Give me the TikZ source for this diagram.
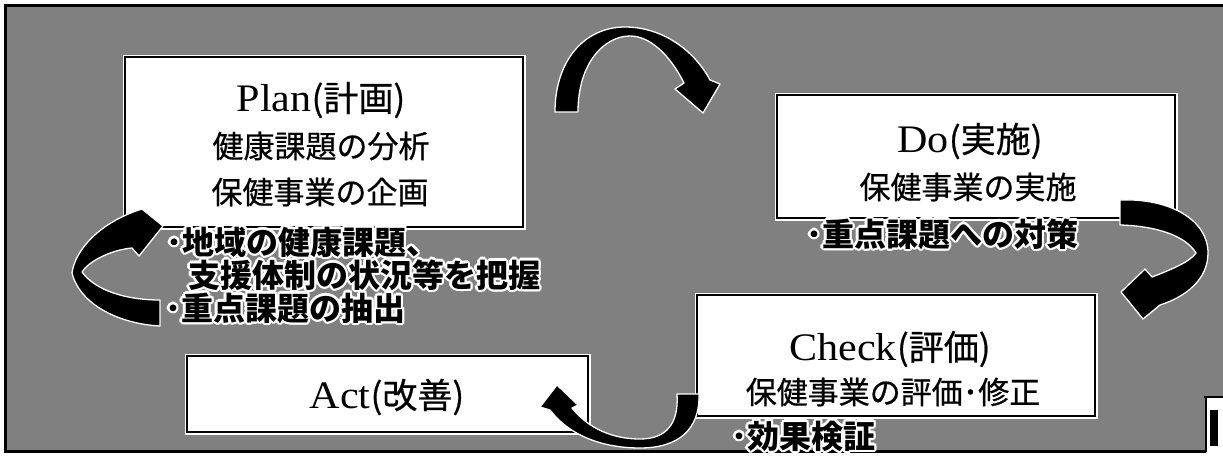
\documentclass[tikz,border=0pt]{standalone}
\usepackage{fontspec}
\setmainfont{Liberation Serif}[FakeStretch=1.08]
\newfontfamily\cjkfont{Noto Sans CJK JP}
\newfontfamily\cjkmed{Noto Sans CJK JP}[FakeBold=0.6]
\usetikzlibrary{calc}
\newcommand{\jtxt}[1]{{\cjkmed\fontsize{35}{40}\selectfont #1}}
\newcommand{\halotext}[3]{%
  \foreach \ang in {0,30,...,330}{%
    \node[bultxt,text=white] at ($(#2)+(\ang:2.3pt)$) {#3};}%
  \node[bultxt] (#1) at (#2) {#3};}
\begin{document}
\begin{tikzpicture}[x=1pt,y=-1pt,
  box/.style={draw=black,line width=2.6pt,fill=white,inner sep=0pt,
    preaction={draw=white,line width=5pt}},
  lattxt/.style={inner sep=0pt,font=\fontsize{39}{42}\selectfont},
  jline/.style={inner sep=0pt,font=\cjkmed\fontsize{31}{36}\selectfont},
  bultxt/.style={anchor=west,inner sep=0pt,text=black,
    font=\cjkfont\bfseries\fontsize{32}{36}\selectfont},
  blockarrow/.style={fill=black,draw=white,line width=1.3pt,line join=round},
  frame/.style={draw=black,line width=3pt}]
\useasboundingbox (0,0) rectangle (1223,458);
% background
\fill[black!50] (4,4) rectangle (1223,452);
\draw[frame] (1223,5) -- (5,5) -- (5,451) -- (1206,451);
% bottom-right scan artefact
\fill[white] (1207,398) rectangle (1223,458);
\draw[black,line width=2.5pt] (1204,397) -- (1223,397);
\draw[black,line width=2pt] (1206,397) -- (1206,452);
\fill[black] (1210,410) rectangle (1218,446);

% boxes
\node[box,minimum width=398pt,minimum height=170pt] (plan) at (324,142) {};
\node[box,minimum width=398pt,minimum height=123pt] (do) at (976,156.5) {};
\node[box,minimum width=398pt,minimum height=121pt] (check) at (896,355.5) {};
\node[box,minimum width=401pt,minimum height=76pt] (act) at (387.5,394) {};

% box texts
\node[lattxt] (plan1) at (321,100) {Plan\jtxt{(計画)}};
\node[jline] (plan2) at (321,146) {健康課題の分析};
\node[jline] (plan3) at (320,192) {保健事業の企画};
\node[lattxt] (do1) at (970,141) {Do\jtxt{(実施)}};
\node[jline] (do2) at (968,187) {保健事業の実施};
\node[lattxt] (ch1) at (890,349) {Check\jtxt{(評価)}};
\node[jline] (ch2) at (893,392) {保健事業の評価･修正};
\node[lattxt] (act1) at (387,397) {Act\jtxt{(改善)}};

% curved block arrows
\path[blockarrow] (555,112) .. controls (555,60) and (585,27) .. (625,27)
  .. controls (662,27) and (694,50) .. (710,80) -- (720,84) -- (703,113)
  -- (675,89) -- (684,83) .. controls (670,55) and (650,36) .. (630,36)
  .. controls (605,36) and (578,62) .. (578,112) -- cycle;
\path[blockarrow] (1120,200) .. controls (1170,198) and (1208,220) .. (1208,253)
  .. controls (1208,280) and (1185,297) .. (1160,305) -- (1143,319) -- (1121,292)
  -- (1145,269) -- (1152,277) .. controls (1170,270) and (1190,262) .. (1196,253)
  .. controls (1185,235) and (1155,226) .. (1120,225) -- cycle;
\path[blockarrow] (677,394) -- (699,394) .. controls (700,430) and (678,448) .. (640,448)
  .. controls (600,448) and (568,434) .. (550,410) -- (540,407) -- (557,385)
  -- (578,405) -- (572,408) .. controls (588,428) and (612,439) .. (640,439)
  .. controls (666,439) and (679,424) .. (677,394) -- cycle;
\path[blockarrow] (160,300) -- (160,326) .. controls (120,324) and (80,305) .. (72,273)
  .. controls (75,250) and (100,222) .. (142,209) -- (163,226) -- (139,256)
  -- (132,248) .. controls (110,250) and (88,262) .. (82,272)
  .. controls (95,290) and (125,300) .. (160,300) -- cycle;

% outlined notes
\halotext{n1}{166,242}{･地域の健康課題、}
\halotext{n2}{188,275}{支援体制の状況等を把握}
\halotext{n3}{165,308}{･重点課題の抽出}
\halotext{n4}{806,234}{･重点課題への対策}
\halotext{n5}{731,436}{･効果検証}
\end{tikzpicture}
\end{document}
